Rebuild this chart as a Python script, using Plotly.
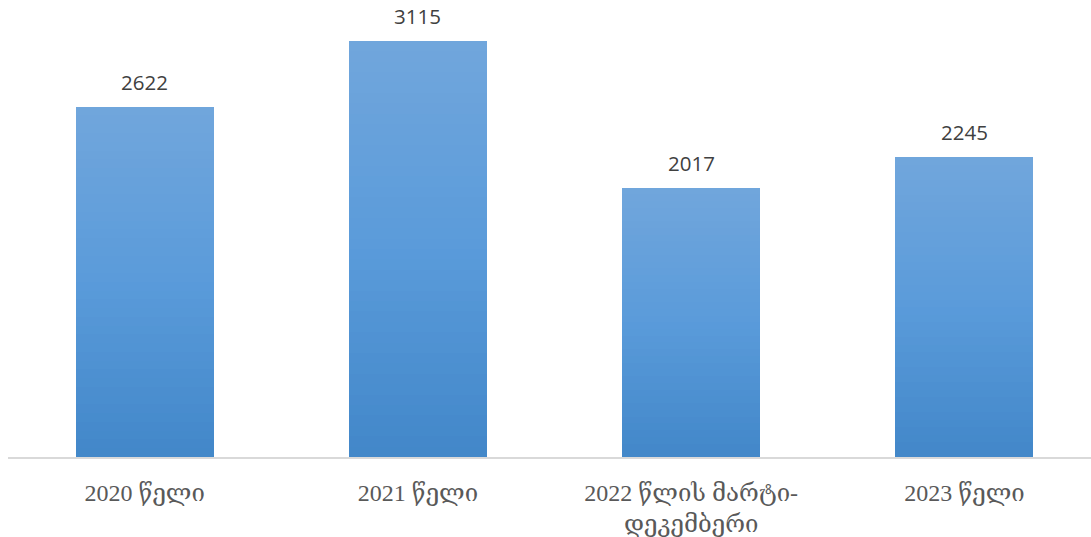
import plotly.graph_objects as go

categories = ["2020 წელი", "2021 წელი", "2022 წლის მარტი-<br>დეკემბერი", "2023 წელი"]
values = [2622, 3115, 2017, 2245]
positions = [0, 1, 2, 3]

top_rgb = (113, 166, 220)
mid_rgb = (90, 155, 218)
bot_rgb = (66, 135, 201)

def lerp(a, b, t):
    return tuple(round(a[k] + (b[k] - a[k]) * t) for k in range(3))

def color_at(f):  # f: 0 bottom -> 1 top
    if f < 0.5:
        c = lerp(bot_rgb, mid_rgb, f / 0.5)
    else:
        c = lerp(mid_rgb, top_rgb, (f - 0.5) / 0.5)
    return "rgb(%d,%d,%d)" % c

N = 40
fig = go.Figure()
for i in range(N):
    f = (i + 0.5) / N
    fig.add_trace(go.Bar(
        x=positions,
        y=[v / N * 1.002 for v in values],
        base=[v * i / N for v in values],
        width=0.505,
        marker=dict(color=color_at(f), line=dict(width=0)),
        hoverinfo="skip",
        showlegend=False,
    ))

for p, v in zip(positions, values):
    fig.add_annotation(x=p, y=v, text=str(v), showarrow=False,
                       yanchor="middle", yshift=25,
                       font=dict(family="Open Sans", size=20.5, color="#404040"))

fig.update_layout(
    width=1091, height=537,
    margin=dict(l=8, r=0, t=0, b=80),
    paper_bgcolor="white", plot_bgcolor="white",
    barmode="overlay",
    bargap=0,
    xaxis=dict(
        range=[-0.5, 3.463],
        tickvals=positions, ticktext=categories,
        showgrid=False, zeroline=False,
        showline=True, linecolor="#D9D9D9", linewidth=2,
        ticks="", ticklabelstandoff=13,
        tickfont=dict(family="Liberation Serif, DejaVu Serif", size=24, color="#595959"),
    ),
    yaxis=dict(range=[0, 3421], visible=False),
)

fig.write_html("out.html",
               config={"displayModeBar": False},
               post_script="document.body.style.margin='0';document.body.style.overflow='hidden';")
